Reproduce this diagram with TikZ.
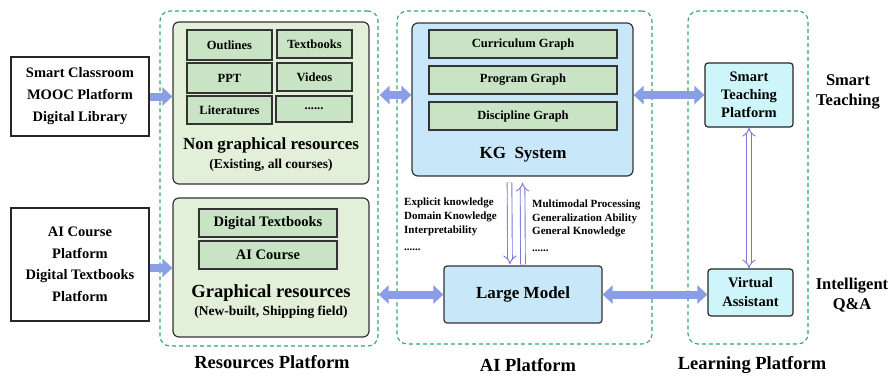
\documentclass[tikz,border=0pt]{standalone}
\usepackage{fontspec}
\setmainfont{Liberation Serif}
\usetikzlibrary{arrows.meta,positioning}

\definecolor{dashgreen}{RGB}{46,168,108}
\definecolor{resfill}{RGB}{226,240,217}
\definecolor{cellgreen}{RGB}{200,228,196}
\definecolor{kgblue}{RGB}{200,232,250}
\definecolor{tealbox}{RGB}{205,245,250}
\definecolor{arrowblue}{RGB}{138,158,230}
\definecolor{hollowblue}{RGB}{118,118,222}

\newcommand{\bsz}[2]{\fontsize{#1}{#2}\selectfont\bfseries}

\tikzset{
  platform/.style={draw=dashgreen, line width=1.1pt, dash pattern=on 4pt off 3pt, rounded corners=10pt, inner sep=0pt},
  group/.style={draw=black!80, line width=1.2pt, rounded corners=6pt, inner sep=0pt},
  cell/.style={draw=black!80, line width=1.1pt, fill=cellgreen, inner sep=0pt, font=\bsz{12.5}{14}},
  srcbox/.style={draw=black!85, line width=1.2pt, fill=white, align=center, inner sep=0pt, minimum width=138pt},
  appbox/.style={draw=black!85, line width=1.2pt, fill=tealbox, rounded corners=3pt, align=center, inner sep=0pt, font=\bsz{14.5}{18}},
  blockarrow/.style={line width=8pt, draw=arrowblue},
  hollow/.style={draw=hollowblue, line width=0.9pt, double=white, double distance=3.8pt},
}

\begin{document}
\begin{tikzpicture}[x=1pt,y=-1pt]
  \useasboundingbox (0,0) rectangle (890,376);
  % platforms
  \node[platform, minimum width=218pt, minimum height=335pt] (resplat) at (269,178.5) {};
  \node[platform, minimum width=255pt, minimum height=333pt] (aiplat) at (524.5,177.5) {};
  \node[platform, minimum width=120pt, minimum height=333pt] (learnplat) at (748,177.5) {};
  \node[font=\bsz{18.5}{20}] (restitle) at (272,362) {Resources Platform};
  \node[font=\bsz{18.5}{20}] (aititle) at (528,365) {AI Platform};
  \node[font=\bsz{18.5}{20}] (learntitle) at (752,365) {Learning Platform};

  % sources
  \node[srcbox, minimum height=79pt, font=\bsz{14.5}{22}] (src1) at (80,96.5) {Smart Classroom\\MOOC Platform\\Digital Library};
  \node[srcbox, minimum height=113pt, font=\bsz{14.5}{21.5}] (src2) at (80,264.5) {AI Course\\Platform\\Digital Textbooks\\Platform};

  % resources
  \node[group, fill=resfill, minimum width=196pt, minimum height=162pt] (ng) at (271,103) {};
  \node[cell, minimum width=85pt, minimum height=30pt] (outl) at (229.5,45) {Outlines};
  \node[cell, minimum width=75pt, minimum height=28pt] (txtb) at (314.5,44) {Textbooks};
  \node[cell, minimum width=85pt, minimum height=30pt] (ppt) at (229.5,78) {PPT};
  \node[cell, minimum width=75pt, minimum height=28pt] (vid) at (314.5,77) {Videos};
  \node[cell, minimum width=85pt, minimum height=28pt] (lit) at (229.5,110) {Literatures};
  \node[cell, minimum width=76pt, minimum height=26pt] (more) at (314,109) {......};
  \node[font=\bsz{17}{19}] (ngtitle) at (271,145) {Non graphical resources};
  \node[font=\bsz{13.5}{15}] (ngsub) at (271,165) {(Existing, all courses)};

  \node[group, fill=resfill, minimum width=196pt, minimum height=139pt] (gr) at (271,267.5) {};
  \node[cell, minimum width=138pt, minimum height=28pt, font=\bsz{14.5}{16}] (dtb) at (268,223) {Digital Textbooks};
  \node[cell, minimum width=138pt, minimum height=28pt, font=\bsz{14.5}{16}] (aic) at (268,255) {AI Course};
  \node[font=\bsz{18.5}{20}] (grtitle) at (271,293) {Graphical resources};
  \node[font=\bsz{13.5}{15}] (grsub) at (271,312) {(New-built, Shipping field)};

  % AI platform
  \node[group, fill=kgblue, minimum width=221pt, minimum height=153pt] (kg) at (522.5,99.5) {};
  \node[cell, minimum width=188pt, minimum height=28pt] (cg) at (523,44) {Curriculum Graph};
  \node[cell, minimum width=188pt, minimum height=28pt] (pg) at (523,80) {Program Graph};
  \node[cell, minimum width=188pt, minimum height=28pt] (dg) at (523,116) {Discipline Graph};
  \node[font=\bsz{17}{19}] (kgtitle) at (523,155) {KG\ \ System};
  \node[group, fill=kgblue, rounded corners=3pt, minimum width=158pt, minimum height=57pt, font=\bsz{17}{19}] (lm) at (523,294.5) {Large Model};
  \node[anchor=north west, align=left, inner sep=0pt, font=\bsz{11}{14}] (kgpro) at (404,198) {Explicit knowledge\\Domain Knowledge\\Interpretability\\[3pt]......};
  \node[anchor=north west, align=left, inner sep=0pt, font=\bsz{11}{13.5}] (lmpro) at (532,200) {Multimodal Processing\\Generalization Ability\\General Knowledge\\[3pt]......};

  % learning platform
  \node[appbox, minimum width=88pt, minimum height=64pt] (stp) at (749,95) {Smart\\Teaching\\Platform};
  \node[appbox, minimum width=85pt, minimum height=47pt, font=\bsz{14.5}{19}] (va) at (750.5,292.5) {Virtual\\Assistant};
  \node[align=center, font=\bsz{16.5}{20}] (smt) at (848,92) {Smart\\Teaching};
  \node[align=center, font=\bsz{16.5}{20}] (iqa) at (852,295) {Intelligent\\Q\&A};

  % block arrows
  \coordinate (rowa) at (0,95);
  \coordinate (rowb) at (0,268);
  \draw[blockarrow, -{Triangle[length=10pt,width=18pt]}] (src1.east) -- (ng.west |- src1.east);
  \draw[blockarrow, -{Triangle[length=10pt,width=18pt]}] (src2.east |- rowb) -- (gr.west |- rowb);
  \draw[blockarrow, {Triangle[length=10pt,width=18pt]}-{Triangle[length=10pt,width=18pt]}, shorten <=10pt] (ng.east |- rowa) -- (kg.west |- rowa);
  \draw[blockarrow, {Triangle[length=10pt,width=18pt]}-{Triangle[length=10pt,width=18pt]}, shorten <=9pt] (gr.east |- lm.west) -- (lm.west);
  \draw[blockarrow, {Triangle[length=10pt,width=18pt]}-{Triangle[length=10pt,width=18pt]}] (kg.east |- stp.west) -- (stp.west);
  \draw[blockarrow, {Triangle[length=10pt,width=18pt]}-{Triangle[length=10pt,width=18pt]}] (lm.east) -- (lm.east -| va.west);

  % hollow arrows
  \draw[hollow, -{Implies}] ([xshift=-13pt,yshift=-6pt]kg.south) -- ([xshift=-13pt,yshift=1pt]lm.north);
  \draw[hollow, -{Implies}] ([yshift=1pt]lm.north) -- ([yshift=-6pt]kg.south);
  \draw[hollow, {Implies}-{Implies}] (stp.south) -- (stp.south |- va.north);
\end{tikzpicture}
\end{document}
